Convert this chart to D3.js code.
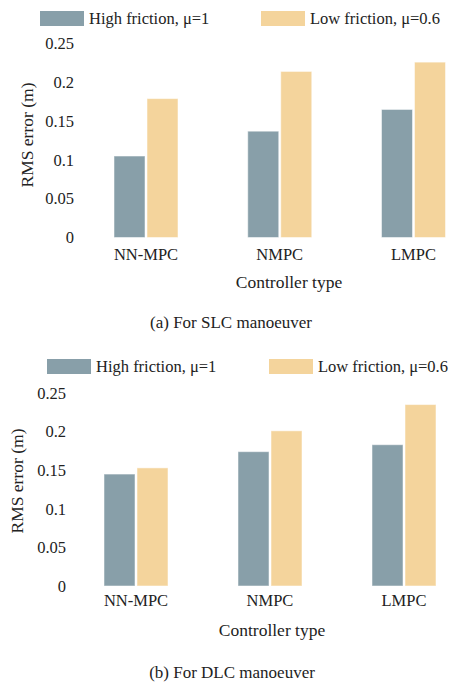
<!DOCTYPE html>
<html>
<head>
<meta charset="utf-8">
<script src="https://cdn.jsdelivr.net/npm/d3@7"></script>
</head>
<body style="margin:0">
<svg width="459" height="684"></svg>
<script>
// Data
const categories = ["NN-MPC", "NMPC", "LMPC"];
const seriesNames = ["High friction, \u03bc=1", "Low friction, \u03bc=0.6"];
const slcHigh = [0.105, 0.137, 0.165];
const slcLow = [0.179, 0.214, 0.226];
const dlcHigh = [0.145, 0.174, 0.183];
const dlcLow = [0.153, 0.201, 0.235];
const yTicks = [0, 0.05, 0.1, 0.15, 0.2, 0.25];
const colors = ["#889fa9", "#f4d49c"];

const svg = d3.select("svg");

// text helper (Times-like font)
function label(parent, txt, x, y, size, anchor) {
  return parent.append("text")
    .attr("x", x).attr("y", y)
    .attr("dy", "0.35em")
    .attr("text-anchor", anchor || "middle")
    .style("font-family", "'Times New Roman'")
    .style("font-size", size)
    .style("fill", "#222")
    .text(txt);
}

function drawPanel(cfg) {
  const g = svg.append("g");

  const x = d3.scalePoint().domain(categories).range(cfg.xRange);
  const y = d3.scaleLinear().domain([0, 0.25]).range(cfg.yRange);
  const barW = 31;

  // y tick labels
  yTicks.forEach(t => label(g, t === 0 ? "0" : String(t), cfg.tickX, y(t), "16.5px", "end"));

  // bars
  [cfg.high, cfg.low].forEach((vals, si) => {
    g.selectAll(null)
      .data(vals)
      .enter()
      .append("rect")
      .attr("x", (d, i) => si === 0 ? x(categories[i]) - barW - 1 : x(categories[i]) + 1)
      .attr("y", d => y(d))
      .attr("width", barW)
      .attr("height", d => y(0) - y(d))
      .attr("fill", colors[si])
      .attr("stroke", "#fff")
      .attr("stroke-opacity", 0.5)
      .attr("stroke-width", 1);
  });

  // category labels
  categories.forEach(c => label(g, c, x(c), cfg.catY, "16.5px"));

  // axis titles
  label(g, "Controller type", cfg.xTitle[0], cfg.xTitle[1], "17.5px");
  label(g, "RMS error (m)", 0, 0, "17.5px")
    .attr("transform", `translate(${cfg.yTitle[0]},${cfg.yTitle[1]}) rotate(-90)`);

  // caption
  label(g, cfg.captionText, cfg.caption[0], cfg.caption[1], "17px");

  // legend
  seriesNames.forEach((name, i) => {
    g.append("rect")
      .attr("x", cfg.legX[i]).attr("y", cfg.legY - 7.5)
      .attr("width", 44).attr("height", 15)
      .attr("fill", colors[i]);
    label(g, name, cfg.legX[i] + 49, cfg.legY, "16.5px", "start");
  });
}

drawPanel({
  high: slcHigh, low: slcLow,
  xRange: [146, 413.5], yRange: [237.5, 43.5],
  tickX: 74, catY: 254,
  xTitle: [289, 282], yTitle: [27, 135],
  caption: [231, 322], captionText: "(a) For SLC manoeuver",
  legX: [40, 261], legY: 18.5
});

drawPanel({
  high: dlcHigh, low: dlcLow,
  xRange: [136, 404], yRange: [586, 393],
  tickX: 66, catY: 600,
  xTitle: [272, 630], yTitle: [17, 481],
  caption: [232, 672], captionText: "(b) For DLC manoeuver",
  legX: [47, 269], legY: 366.5
});
</script>
</body>
</html>
